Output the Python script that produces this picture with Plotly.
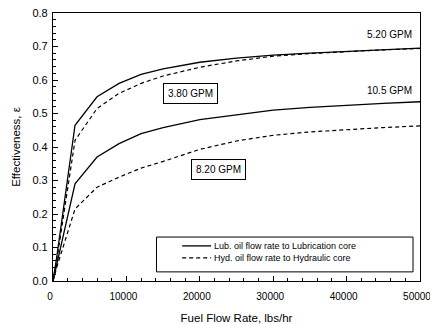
import plotly.graph_objects as go

fuel_flow = [0, 500, 3000, 6000, 9000, 12000, 15000, 20000, 25000, 30000, 35000, 40000, 45000, 50000]
lub_520 = [0.0, 0.07, 0.465, 0.55, 0.59, 0.617, 0.633, 0.653, 0.665, 0.674, 0.68, 0.685, 0.69, 0.695]
hyd_380 = [0.0, 0.06, 0.42, 0.515, 0.56, 0.59, 0.612, 0.638, 0.657, 0.671, 0.679, 0.685, 0.69, 0.694]
lub_105 = [0.0, 0.05, 0.29, 0.37, 0.41, 0.44, 0.458, 0.482, 0.497, 0.51, 0.518, 0.525, 0.53, 0.535]
hyd_820 = [0.0, 0.04, 0.215, 0.28, 0.31, 0.337, 0.357, 0.393, 0.418, 0.435, 0.445, 0.452, 0.458, 0.463]

x_ticks = [0, 10000, 20000, 30000, 40000, 50000]
x_ticktext = ["0", "10000", "20000", "30000", "40000", "50000"]
y_ticks = [0, 0.1, 0.2, 0.3, 0.4, 0.5, 0.6, 0.7, 0.8]
y_ticktext = ["0.0", "0.1", "0.2", "0.3", "0.4", "0.5", "0.6", "0.7", "0.8"]

labels = ["5.20 GPM", "3.80 GPM", "10.5 GPM", "8.20 GPM"]
legend_names = ["Lub. oil flow rate to Lubrication core", "Hyd. oil flow rate to Hydraulic core"]

FONT = "Liberation Sans, Arial, sans-serif"
SOLID = dict(color="black", width=1.3, dash="solid")
DASHED = dict(color="black", width=1.2, dash="4px,3px")

fig = go.Figure()
fig.add_trace(go.Scatter(x=fuel_flow, y=lub_520, mode="lines", name=legend_names[0], line=SOLID, showlegend=False))
fig.add_trace(go.Scatter(x=fuel_flow, y=hyd_380, mode="lines", name=legend_names[1], line=DASHED, showlegend=False))
fig.add_trace(go.Scatter(x=fuel_flow, y=lub_105, mode="lines", name=legend_names[0], line=SOLID, showlegend=False))
fig.add_trace(go.Scatter(x=fuel_flow, y=hyd_820, mode="lines", name=legend_names[1], line=DASHED, showlegend=False))

fig.add_annotation(x=45800, y=0.737, text=labels[0], showarrow=False, font=dict(size=10, color="black", family=FONT))
fig.add_annotation(x=18750, y=0.56, text=labels[1], showarrow=False, font=dict(size=10, color="black", family=FONT),
                   bordercolor="black", borderwidth=1, borderpad=4, bgcolor="white")
fig.add_annotation(x=45800, y=0.57, text=labels[2], showarrow=False, font=dict(size=10, color="black", family=FONT))
fig.add_annotation(x=22500, y=0.334, text=labels[3], showarrow=False, font=dict(size=10, color="black", family=FONT),
                   bordercolor="black", borderwidth=1, borderpad=4, bgcolor="white")

# Legend box drawn in paper coordinates
fig.add_shape(type="rect", xref="paper", yref="paper", x0=0.282, x1=0.981, y0=0.034, y1=0.164,
              line=dict(color="black", width=1), fillcolor="white", layer="above")
fig.add_shape(type="line", xref="paper", yref="paper", x0=0.352, x1=0.431, y0=0.131, y1=0.131,
              line=SOLID, layer="above")
fig.add_shape(type="line", xref="paper", yref="paper", x0=0.352, x1=0.431, y0=0.086, y1=0.086,
              line=DASHED, layer="above")
fig.add_annotation(xref="paper", yref="paper", x=0.434, y=0.131, xanchor="left", yanchor="middle",
                   text=legend_names[0], showarrow=False, font=dict(size=9, color="black", family=FONT))
fig.add_annotation(xref="paper", yref="paper", x=0.434, y=0.086, xanchor="left", yanchor="middle",
                   text=legend_names[1], showarrow=False, font=dict(size=9, color="black", family=FONT))

fig.update_layout(
    width=430, height=316,
    margin=dict(l=45, r=18, t=5, b=43, autoexpand=False),
    paper_bgcolor="white", plot_bgcolor="white",
    font=dict(family=FONT, color="black", size=10),
    showlegend=False,
    xaxis=dict(range=[0, 50000], tickvals=x_ticks, ticktext=x_ticktext, automargin=False,
               ticklabeloverflow="allow", ticklabelstandoff=6, ticklabelshift=-3,
               ticks="inside", ticklen=5, tickcolor="black", showgrid=False, zeroline=False,
               showline=True, linecolor="black", linewidth=1.2, mirror=True,
               tickfont=dict(size=10, family=FONT),
               minor=dict(dtick=2000, ticks="inside", ticklen=3, tickcolor="black"),
               title=dict(text="Fuel Flow Rate, lbs/hr", font=dict(size=11.5, family=FONT), standoff=14)),
    yaxis=dict(range=[0, 0.8], tickvals=y_ticks, ticktext=y_ticktext, automargin=False,
               ticklabeloverflow="allow", ticklabelstandoff=2,
               ticks="inside", ticklen=5, tickcolor="black", showgrid=False, zeroline=False,
               showline=True, linecolor="black", linewidth=1.2, mirror=True,
               tickfont=dict(size=11, family=FONT),
               minor=dict(dtick=0.02, ticks="inside", ticklen=3, tickcolor="black"),
               title=dict(text="Effectiveness, ε", font=dict(size=11.5, family=FONT), standoff=9)),
)

fig.write_html("out.html")
